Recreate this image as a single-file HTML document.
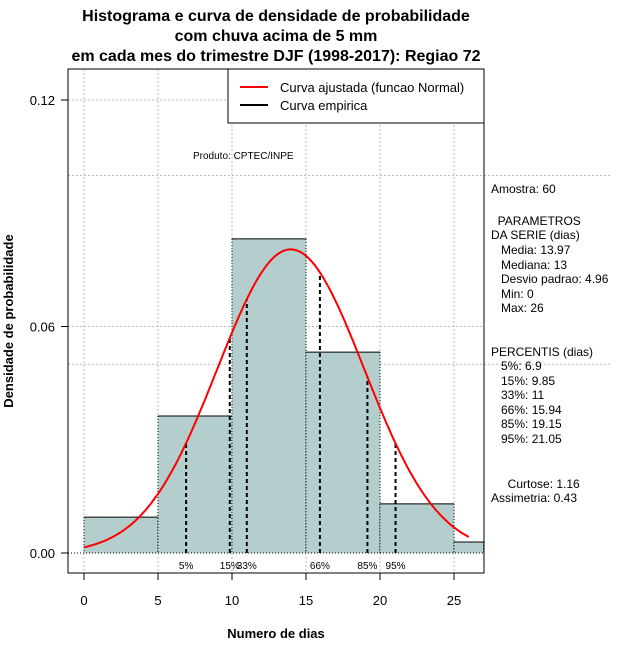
<!DOCTYPE html>
<html><head><meta charset="utf-8"><style>
body{margin:0;background:#fff}
svg{display:block;font-family:"Liberation Sans",sans-serif}
</style></head><body>
<svg id="c" width="640" height="660" xmlns="http://www.w3.org/2000/svg">
<g font-weight="bold" font-size="16" text-anchor="middle">
<text x="276" y="21">Histograma e curva de densidade de probabilidade</text>
<text x="276" y="41">com chuva acima de 5 mm</text>
<text x="276" y="61">em cada mes do trimestre DJF (1998-2017): Regiao 72</text>
</g>
<g id="grid"></g>
<g id="bars"></g>
<g id="pct"></g>
<path id="curve" fill="none" stroke="#f00" stroke-width="2"/>
<rect x="68" y="69" width="416" height="504" fill="none" stroke="#000"/>
<g id="axes" font-size="13"></g>
<g>
<rect x="228" y="69" width="256" height="54" fill="#fff" stroke="#000"/>
<line x1="240" y1="87" x2="268" y2="87" stroke="#f00" stroke-width="2"/>
<line x1="240" y1="105" x2="268" y2="105" stroke="#000" stroke-width="2"/>
<text x="280" y="92" font-size="13">Curva ajustada (funcao Normal)</text>
<text x="280" y="110" font-size="13">Curva empirica</text>
</g>
<text x="193" y="159" font-size="10">Produto: CPTEC/INPE</text>
<text x="276" y="638" font-size="13" font-weight="bold" text-anchor="middle">Numero de dias</text>
<text transform="translate(13,321) rotate(-90)" font-size="13" font-weight="bold" text-anchor="middle">Densidade de probabilidade</text>
<g id="stats" font-size="12"></g>
</svg>
<script>
const binEdges=[0,5,10,15,20,25,27];
const densities=[0.0095,0.0363,0.0832,0.0532,0.013,0.0029];
const pctLabels=["5%","15%","33%","66%","85%","95%"];
const pctValues=[6.9,9.85,11,15.94,19.15,21.05];
const xTicks=[0,5,10,15,20,25];
const yTicks=[0,0.06,0.12];
const yTickLabels=["0.00","0.06","0.12"];
const mean=13.97, sd=4.96;
const statLines=[["Amostra: 60",193],["  PARAMETROS",225],["DA SERIE (dias)",239],["   Media: 13.97",254],["   Mediana: 13",269],["   Desvio padrao: 4.96",283],["   Min: 0",298],["   Max: 26",312],["PERCENTIS (dias)",356],["   5%: 6.9",370],["   15%: 9.85",385],["   33%: 11",399],["   66%: 15.94",414],["   85%: 19.15",428],["   95%: 21.05",443],["     Curtose: 1.16",488],["Assimetria: 0.43",502]];
const X=v=>84+v*14.8, Y=v=>553-v*3775;
const NS="http://www.w3.org/2000/svg";
function mk(p,t,a){const e=document.createElementNS(NS,t);for(const k in a)e.setAttribute(k,a[k]);p.appendChild(e);return e;}
const g=document.getElementById('grid');
xTicks.forEach(v=>{const l=mk(g,'line',{x1:X(v),x2:X(v),y1:69,y2:573,stroke:'#bbb','stroke-dasharray':'2,2'});

});
[0.1,0.05].forEach(v=>{const l=mk(g,'line',{x1:68,x2:612,y1:Y(v),y2:Y(v),stroke:'#bbb','stroke-dasharray':'2,2'});

});
[0.12,0.06].forEach(v=>{const l=mk(g,'line',{x1:68,x2:484,y1:Y(v),y2:Y(v),stroke:'#bbb','stroke-dasharray':'2,2'});

});
const b=document.getElementById('bars');
densities.forEach((d,i)=>{const x0=X(binEdges[i]),x1=X(binEdges[i+1]),y=Y(d);
const r=mk(b,'rect',{x:x0,y:y,width:x1-x0,height:553-y,fill:'#b4cece'});


mk(b,'line',{x1:x0,x2:x1,y1:y,y2:y,stroke:'#000'});
mk(b,'line',{x1:x0,x2:x0,y1:y,y2:553,stroke:'#000','stroke-dasharray':'1,2'});
mk(b,'line',{x1:x1,x2:x1,y1:y,y2:553,stroke:'#000','stroke-dasharray':'1,2'});});
mk(b,'line',{x1:68,x2:484,y1:553,y2:553,stroke:'#000','stroke-dasharray':'1,2'});
const pdf=v=>Math.exp(-0.5*((v-mean)/sd)**2)/(sd*Math.sqrt(2*Math.PI));
let d='';for(let v=0;v<=26.001;v+=0.2)d+=(d?'L':'M')+X(v).toFixed(1)+','+Y(pdf(v)).toFixed(1);
document.getElementById('curve').setAttribute('d',d);
const p=document.getElementById('pct');
pctValues.forEach((v,i)=>{const l=mk(p,'line',{x1:X(v),x2:X(v),y1:553,y2:Y(pdf(v)),stroke:'#000','stroke-width':2,'stroke-dasharray':'4,3'});


const t=mk(p,'text',{x:X(v),y:569,'font-size':10,'text-anchor':'middle'});t.textContent=pctLabels[i];

});
const a=document.getElementById('axes');
xTicks.forEach(v=>{mk(a,'line',{x1:X(v),x2:X(v),y1:573,y2:580,stroke:'#000'});
const t=mk(a,'text',{x:X(v),y:605,'text-anchor':'middle'});t.textContent=v;

});
yTicks.forEach((v,i)=>{mk(a,'line',{x1:61,x2:68,y1:Y(v),y2:Y(v),stroke:'#000'});
const t=mk(a,'text',{x:55,y:Y(v)+5,'text-anchor':'end'});t.textContent=yTickLabels[i];

});
const s=document.getElementById('stats');
statLines.forEach(([txt,y])=>{const t=mk(s,'text',{x:491,y:y});t.setAttribute('style','white-space:pre');t.textContent=txt;});
</script>
</body></html>
